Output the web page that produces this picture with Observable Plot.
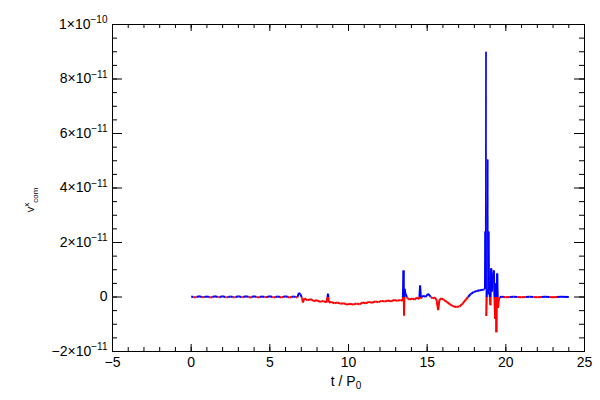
<!DOCTYPE html>
<html><head><meta charset="utf-8">
<script src="https://cdn.jsdelivr.net/npm/d3@7"></script>
<script src="https://cdn.jsdelivr.net/npm/@observablehq/plot@0.6"></script>
<style>body{margin:0;background:#fff} svg{display:block}</style>
</head><body><div id="chart"></div>
<script>
// time in units of P0
const tValues = [0,0.25,0.5,0.75,1,1.25,1.5,1.75,2,2.25,2.5,2.75,3,3.25,3.5,3.75,4,4.25,4.5,4.75,5,5.25,5.5,5.75,6,6.25,6.5,6.75,
  6.85,6.95,7.05,7.1,7.2,7.4,7.6,7.8,8.0,8.2,8.4,8.6,8.7,8.75,8.9,9.1,9.3,9.5,9.7,9.9,10.1,10.3,10.5,10.7,10.9,11.1,11.3,11.5,11.7,11.9,
  12.1,12.3,12.5,12.7,12.9,13.1,13.3,13.45,13.5,13.53,13.56,13.62,13.75,13.9,14.05,14.2,14.35,14.5,14.55,14.6,14.75,14.9,15.05,15.2,15.35,
  15.5,15.6,15.7,15.78,15.9,16.05,16.25,16.45,16.65,16.85,17.05,17.25,17.45,17.6,17.75,17.95,18.15,18.35,18.55,18.65,18.68,18.7,18.74,18.76,
  18.8,18.85,18.88,18.92,18.96,19.02,19.07,19.12,19.18,19.24,19.28,19.32,19.36,19.4,19.45,19.5,19.56,19.62,19.75,20,20.5,21,21.5,22,22.5,23,23.5,24];
// v^x_com in units of 1e-11
const vValues = [0.02,-0.015,0.025,-0.01,0.02,-0.02,0.03,-0.01,0.025,-0.015,0.02,-0.015,0.025,-0.01,0.03,-0.02,0.025,-0.015,0.02,-0.01,0.025,-0.015,0.02,-0.015,0.025,-0.02,0.02,-0.015,
  0.15,0.1,-0.05,-0.2,-0.05,-0.12,-0.08,-0.15,-0.12,-0.18,-0.15,-0.2,0.12,-0.2,-0.18,-0.23,-0.2,-0.25,-0.23,-0.28,-0.25,-0.28,-0.24,-0.27,-0.2,-0.23,-0.18,-0.21,-0.16,-0.19,
  -0.14,-0.17,-0.13,-0.16,-0.11,-0.14,-0.11,-0.14,0.97,-0.68,0.3,0.12,-0.05,-0.1,-0.05,-0.1,-0.02,-0.08,0.42,-0.05,0.05,0.0,0.12,0.02,-0.05,
  -0.02,-0.12,-0.48,-0.1,-0.05,-0.1,-0.18,-0.27,-0.34,-0.37,-0.35,-0.25,-0.1,0.0,0.1,0.18,0.22,0.25,0.27,0.28,2.4,0.3,9.0,-0.7,
  0.3,5.05,0.1,2.4,0.2,-0.3,1.05,0.2,0.8,0.97,-0.1,-0.8,0.5,-1.29,0.86,-0.4,-0.1,0.0,0.01,-0.01,0.01,-0.01,0.01,-0.01,0.01,-0.01,0.01,0];
const scaleFactor = 1e-11;

const xTickValues = [-5,0,5,10,15,20,25];
const xMinorTicks = d3.range(-5, 25.001, 1);
const yTickValues = [-2e-11,0,2e-11,4e-11,6e-11,8e-11,1e-10];
const yTickBases = ["−2×10","0","2×10","4×10","6×10","8×10","1×10"];
const yTickExps = ["−11","","−11","−11","−11","−11","−10"];
const yMinorTicks = d3.range(-2, 10.001, 0.5).map(d => d*1e-11);

const W = 600, H = 400, mL = 112, mR = 16, mT = 24, mB = 49;
const plotW = W - mL - mR, plotH = H - mT - mB;

const pts = tValues.map((t,i) => ({t, v: vValues[i]*scaleFactor}));
const segs = [];
for (let i = 1; i < pts.length; i++) {
  const a = pts[i-1], b = pts[i];
  const big = Math.max(Math.abs(a.v), Math.abs(b.v)) > 1.5e-11;
  if (a.v * b.v < 0) {
    const tc = a.t + (b.t - a.t) * (a.v / (a.v - b.v));
    segs.push({x1:a.t, y1:a.v, x2:tc, y2:0, pos:a.v > 0, big});
    segs.push({x1:tc, y1:0, x2:b.t, y2:b.v, pos:b.v > 0, big});
  } else {
    segs.push({x1:a.t, y1:a.v, x2:b.t, y2:b.v, pos:(a.v + b.v) >= 0, big});
  }
}

const font = "'Liberation Sans', Arial, Helvetica, sans-serif";
const chart = Plot.plot({
  width: W, height: H,
  marginLeft: mL, marginRight: mR, marginTop: mT, marginBottom: mB,
  style: {fontFamily: font, fontSize: "14px", background: "white", color: "black"},
  x: {domain: [-5, 25]},
  y: {domain: [-2e-11, 1e-10]},
  marks: [
    Plot.link(segs, {x1:"x1", y1:"y1", x2:"x2", y2:"y2", stroke: d => d.pos ? "#0000ff" : "#ff0000", strokeWidth: d => d.big ? 1.2 : 2}),
    Plot.frame({stroke: "black"}),
    // bottom & top inward ticks
    Plot.tickX(xTickValues, {x: d => d, insetTop: plotH - 7, stroke: "black"}),
    Plot.tickX(xMinorTicks, {x: d => d, insetTop: plotH - 4, stroke: "black"}),
    Plot.tickX(xTickValues, {x: d => d, insetBottom: plotH - 7, stroke: "black"}),
    Plot.tickX(xMinorTicks, {x: d => d, insetBottom: plotH - 4, stroke: "black"}),
    // left & right inward ticks
    Plot.tickY(yTickValues, {y: d => d, insetRight: plotW - 10, stroke: "black"}),
    Plot.tickY(yMinorTicks, {y: d => d, insetRight: plotW - 5, stroke: "black"}),
    Plot.tickY(yTickValues, {y: d => d, insetLeft: plotW - 10, stroke: "black"}),
    Plot.tickY(yMinorTicks, {y: d => d, insetLeft: plotW - 5, stroke: "black"}),
    Plot.axisX({ticks: xTickValues, tickSize: 0, tickPadding: 6, label: null, tickFormat: d => d < 0 ? "−" + Math.abs(d) : String(d)}),
    Plot.axisY({ticks: yTickValues, tickSize: 0, tickPadding: 5, label: null, tickFormat: d => String(yTickValues.indexOf(d))})
  ]
});

const svg = d3.select(chart);
// rebuild y tick labels with superscript exponents
svg.selectAll('g[aria-label="y-axis tick label"] text').each(function() {
  const t = d3.select(this);
  const idx = +t.text();
  t.text(null);
  t.append("tspan").text(yTickBases[idx]);
  if (yTickExps[idx]) t.append("tspan").attr("dy", "-0.55em").attr("font-size", "10px").text(yTickExps[idx]);
});
// y axis title
const yl = svg.append("text").attr("transform", "translate(34,200) rotate(-90)")
  .attr("font-family", font).attr("font-size", "11px").attr("fill", "black");
yl.append("tspan").text("v");
yl.append("tspan").attr("dy", "-5").attr("font-size", "8px").text("x");
yl.append("tspan").attr("dy", "9").attr("font-size", "8px").text("com");
// x axis title
const xl = svg.append("text").attr("x", 346).attr("y", 386).attr("text-anchor", "middle")
  .attr("font-family", font).attr("font-size", "14px").attr("fill", "black");
xl.append("tspan").text("t / P");
xl.append("tspan").attr("dy", "3").attr("font-size", "10px").text("0");

document.getElementById("chart").appendChild(chart);
</script>
</body></html>
